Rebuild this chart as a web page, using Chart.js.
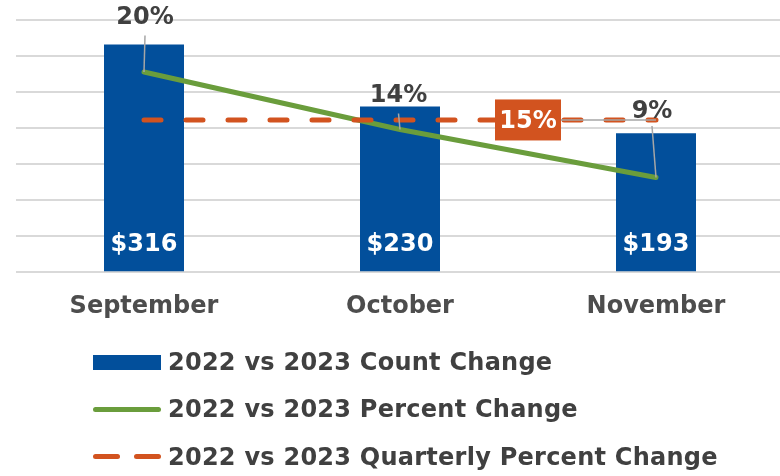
<!DOCTYPE html>
<html>
<head>
<meta charset="utf-8">
<script src="https://cdn.jsdelivr.net/npm/chart.js@4.4.1/dist/chart.umd.min.js"></script>
<style>
  html, body { margin: 0; padding: 0; background: #fff; overflow: hidden; }
  #wrap { position: relative; width: 784px; height: 476px; }
  #legend { position: absolute; left: 93px; top: 0; font-family: 'DejaVu Sans', sans-serif; font-weight: bold; font-size: 24px; letter-spacing: 0.25px; color: #404040; }
  .row { position: absolute; left: 0; height: 30px; display: flex; align-items: center; white-space: nowrap; }
  .sw { width: 68px; height: 30px; position: relative; margin-right: 7px; flex: none; }
  .sw div { position: absolute; }
</style>
</head>
<body>
<div id="wrap">
  <canvas id="chart" width="784" height="476"></canvas>
  <div id="legend"></div>
</div>
<script>
const categories = ['September', 'October', 'November'];
const countChange = [316, 230, 193];
const percentChange = [20, 14, 9];
const quarterlyChange = [15, 15, 15];
const seriesNames = [
  '2022 vs 2023 Count Change',
  '2022 vs 2023 Percent Change',
  '2022 vs 2023 Quarterly Percent Change'
];

const BLUE = '#024f9b';
const GREEN = '#6a9d3c';
const ORANGE = '#d2531f';
const FONT = '"DejaVu Sans", sans-serif';

// label placement around each percent point: offset of the text and where its leader starts
const pctLabelDx = [1, -1.5, -4];
const pctLabelDy = [-56, -35.5, -67];
const pctLeaderStart = [19.5, 19.5, 15.5];

const valueLabels = {
  id: 'valueLabels',
  afterDatasetsDraw(chart) {
    const ctx = chart.ctx;
    const area = chart.chartArea;
    ctx.save();
    ctx.font = 'bold 24px ' + FONT;
    ctx.textAlign = 'center';
    ctx.textBaseline = 'middle';

    // dollar amounts inside the bars
    ctx.fillStyle = '#ffffff';
    chart.getDatasetMeta(0).data.forEach((bar, i) => {
      ctx.fillText('$' + countChange[i], bar.x, area.bottom - 29 + 1.5);
    });

    // percent change labels with grey leader lines
    const pts = chart.getDatasetMeta(1).data;
    ctx.strokeStyle = '#a6a6a6';
    ctx.lineWidth = 1.5;
    pts.forEach((p, i) => {
      const lx = p.x + pctLabelDx[i];
      const ly = p.y + pctLabelDy[i];
      ctx.beginPath();
      ctx.moveTo(lx, ly + pctLeaderStart[i]);
      ctx.lineTo(p.x, p.y);
      ctx.stroke();
      ctx.fillStyle = '#404040';
      ctx.fillText(percentChange[i] + '%', lx, ly + 1.5);
    });

    // quarterly label: orange box between October and November
    const q = chart.getDatasetMeta(2).data;
    const bx = (q[1].x + q[2].x) / 2;
    const by = q[1].y;
    const bw = 66, bh = 41;
    ctx.beginPath();
    ctx.moveTo(bx + bw / 2, by);
    ctx.lineTo(q[2].x, by);
    ctx.stroke();
    ctx.fillStyle = ORANGE;
    ctx.fillRect(bx - bw / 2, by - bh / 2, bw, bh);
    ctx.fillStyle = '#ffffff';
    ctx.fillText(quarterlyChange[1] + '%', bx, by + 1.5);
    ctx.restore();
  }
};

new Chart(document.getElementById('chart'), {
  type: 'bar',
  data: {
    labels: categories,
    datasets: [
      {
        label: seriesNames[0],
        data: countChange,
        backgroundColor: BLUE,
        categoryPercentage: 0.3125,
        barPercentage: 1,
        yAxisID: 'y',
        order: 3
      },
      {
        label: seriesNames[1],
        type: 'line',
        data: percentChange,
        borderColor: GREEN,
        borderWidth: 5,
        borderCapStyle: 'round',
        pointRadius: 0,
        tension: 0,
        yAxisID: 'y1',
        order: 2
      },
      {
        label: seriesNames[2],
        type: 'line',
        data: quarterlyChange,
        borderColor: ORANGE,
        borderWidth: 5,
        borderDash: [17, 25],
        borderCapStyle: 'round',
        pointRadius: 0,
        yAxisID: 'y1',
        order: 1
      }
    ]
  },
  options: {
    responsive: false,
    animation: false,
    layout: { padding: { left: 16, top: 20, right: 0, bottom: 135 } },
    plugins: { legend: { display: false }, tooltip: { enabled: false } },
    scales: {
      x: {
        grid: { display: false, drawTicks: false },
        border: { display: false },
        ticks: { color: '#4d4d4d', padding: 20, font: { family: FONT, size: 24, weight: 'bold' } }
      },
      y: {
        min: 0, max: 350,
        grid: { color: '#d9d9d9', lineWidth: 2, drawTicks: false },
        border: { display: false },
        ticks: { display: false, stepSize: 50 }
      },
      y1: { display: false, min: -0.87, max: 25.42 }
    }
  },
  plugins: [valueLabels]
});

// legend below the plot, one series per row
const legendRows = [
  { top: 346.5, marks: [{ l: 0, t: 8, w: 68, h: 15, c: BLUE, r: 0 }] },
  { top: 394, marks: [{ l: 0, t: 12.5, w: 68, h: 5, c: GREEN, r: 3 }] },
  { top: 441.5, marks: [{ l: 0, t: 12.5, w: 27, h: 5, c: ORANGE, r: 3 }, { l: 41, t: 12.5, w: 27, h: 5, c: ORANGE, r: 3 }] }
];
const legend = document.getElementById('legend');
legendRows.forEach((row, i) => {
  const el = document.createElement('div');
  el.className = 'row';
  el.style.top = row.top + 'px';
  const sw = document.createElement('div');
  sw.className = 'sw';
  row.marks.forEach(m => {
    const d = document.createElement('div');
    Object.assign(d.style, { left: m.l + 'px', top: m.t + 'px', width: m.w + 'px', height: m.h + 'px', background: m.c, borderRadius: m.r + 'px' });
    sw.appendChild(d);
  });
  const txt = document.createElement('span');
  txt.textContent = seriesNames[i];
  el.appendChild(sw);
  el.appendChild(txt);
  legend.appendChild(el);
});
</script>
</body>
</html>
